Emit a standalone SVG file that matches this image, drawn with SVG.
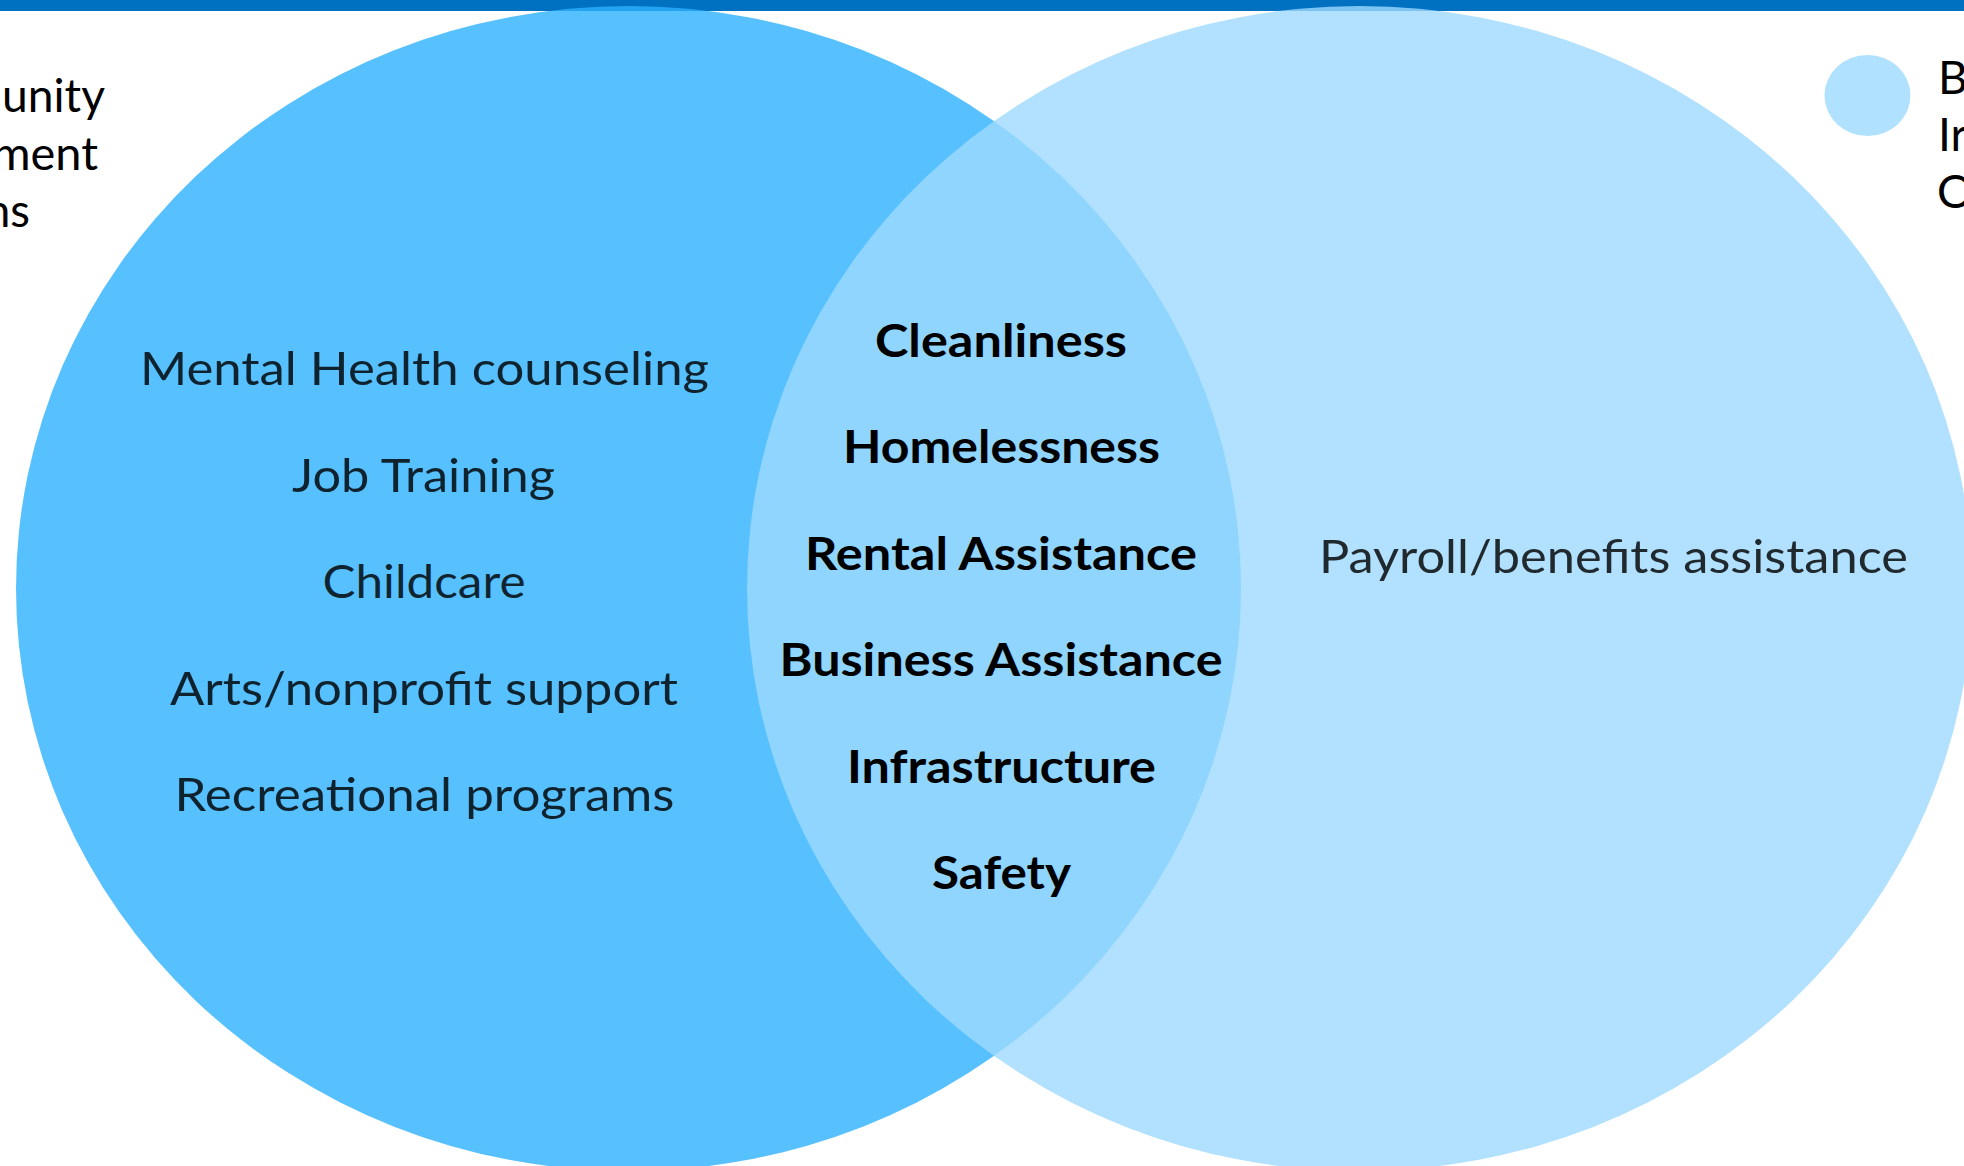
<svg xmlns="http://www.w3.org/2000/svg" width="1964" height="1166" viewBox="0 0 1964 1166">
  <style>
    .t { font-family: "Lato", "Open Sans", "Liberation Sans", sans-serif; font-size: 46px; }
    .item { fill: #000000; fill-opacity: 0.82; text-anchor: middle; }
    .core { font-weight: 700; font-size: 45px; fill: #000000; text-anchor: middle; }
    .legend { fill: #000000; }
    .circL { fill: rgb(45,176,254); fill-opacity: 0.8; }
    .circR { fill: rgb(157,218,254); fill-opacity: 0.8; }
  </style>
  <rect id="topbar" x="0" y="0" width="1964" height="11" fill="#0070C0"/>
  <g id="circle-left">
    <ellipse class="circL" cx="628.5" cy="588.5" rx="612.5" ry="582.5"/>
  </g>
  <g id="circle-right">
    <ellipse class="circR" cx="1359.5" cy="588.5" rx="612.5" ry="582.5"/>
  </g>
  <g id="legend-left">
    <text class="t legend" x="-36" y="112" textLength="141" lengthAdjust="spacingAndGlyphs">munity</text>
    <text class="t legend" x="-8" y="170" textLength="106" lengthAdjust="spacingAndGlyphs">ment</text>
    <text class="t legend" x="-15" y="227" textLength="45" lengthAdjust="spacingAndGlyphs">ns</text>
  </g>
  <g id="legend-right">
    <ellipse cx="1867.5" cy="95.5" rx="43" ry="40.5" fill="#B0E1FE"/>
    <text class="t legend" x="1938" y="94">B</text>
    <text class="t legend" x="1938" y="151">Ir</text>
    <text class="t legend" x="1937" y="208">O</text>
  </g>
  <g id="left-items">
    <text class="t item" x="424.5" y="385" textLength="569" lengthAdjust="spacingAndGlyphs">Mental Health counseling</text>
    <text class="t item" x="423.5" y="491.5" textLength="263" lengthAdjust="spacingAndGlyphs">Job Training</text>
    <text class="t item" x="424" y="598" textLength="203" lengthAdjust="spacingAndGlyphs">Childcare</text>
    <text class="t item" x="424" y="704.5" textLength="508" lengthAdjust="spacingAndGlyphs">Arts/nonprofit support</text>
    <text class="t item" x="424.5" y="811" textLength="500" lengthAdjust="spacingAndGlyphs">Recreational programs</text>
  </g>
  <g id="overlap-items">
    <text class="t core" x="1001" y="357" textLength="252" lengthAdjust="spacingAndGlyphs">Cleanliness</text>
    <text class="t core" x="1001.5" y="463" textLength="317" lengthAdjust="spacingAndGlyphs">Homelessness</text>
    <text class="t core" x="1001" y="569.5" textLength="392" lengthAdjust="spacingAndGlyphs">Rental Assistance</text>
    <text class="t core" x="1001" y="676" textLength="443" lengthAdjust="spacingAndGlyphs">Business Assistance</text>
    <text class="t core" x="1001.5" y="782.5" textLength="309" lengthAdjust="spacingAndGlyphs">Infrastructure</text>
    <text class="t core" x="1001.5" y="889" textLength="139" lengthAdjust="spacingAndGlyphs">Safety</text>
  </g>
  <g id="right-items">
    <text class="t item" x="1613.5" y="573" textLength="589" lengthAdjust="spacingAndGlyphs">Payroll/benefits assistance</text>
  </g>
</svg>
